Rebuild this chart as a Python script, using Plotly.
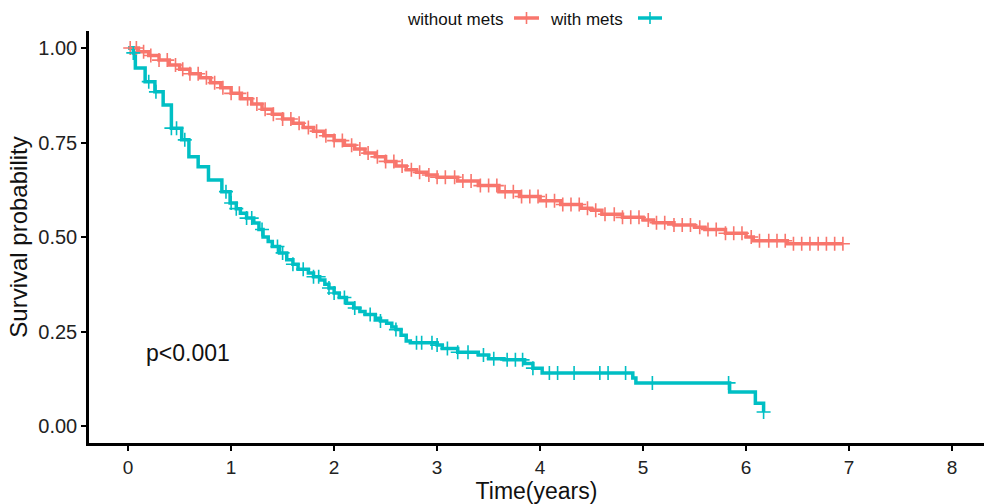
import numpy as np
import plotly.graph_objects as go

# ---------------- data ----------------
group_labels = ["without mets", "with mets"]

# Kaplan-Meier step curve, group "without mets"
t_nomets = [0.0, 0.1, 0.2, 0.3, 0.4, 0.5, 0.6, 0.7, 0.8, 0.9, 1.0, 1.1, 1.2, 1.3, 1.4,
            1.5, 1.6, 1.7, 1.8, 1.9, 2.0, 2.1, 2.2, 2.3, 2.4, 2.5, 2.6, 2.7, 2.8, 2.9,
            3.0, 3.2, 3.4, 3.6, 3.8, 4.0, 4.2, 4.4, 4.5, 4.6, 4.8, 5.0, 5.1, 5.3, 5.5,
            5.6, 5.8, 6.0, 6.07, 6.4, 6.94]
s_nomets = [1.0, 0.99, 0.98, 0.968, 0.955, 0.944, 0.932, 0.921, 0.908, 0.895, 0.88, 0.866,
            0.852, 0.838, 0.825, 0.812, 0.801, 0.79, 0.78, 0.768, 0.755, 0.743, 0.733,
            0.722, 0.712, 0.70, 0.688, 0.678, 0.671, 0.664, 0.658, 0.648, 0.636, 0.62,
            0.607, 0.596, 0.586, 0.576, 0.571, 0.56, 0.552, 0.545, 0.538, 0.532, 0.526,
            0.52, 0.51, 0.50, 0.49, 0.482, 0.482]

# Kaplan-Meier step curve, group "with mets"
t_mets = [0.0, 0.05, 0.07, 0.165, 0.26, 0.34, 0.42, 0.52, 0.59, 0.68, 0.78, 0.91, 0.99,
          1.05, 1.09, 1.15, 1.22, 1.27, 1.31, 1.36, 1.4, 1.47, 1.54, 1.6, 1.65, 1.75, 1.8,
          1.86, 1.91, 1.95, 2.0, 2.05, 2.12, 2.19, 2.25, 2.3, 2.4, 2.45, 2.51, 2.56, 2.6,
          2.65, 2.7, 2.74, 3.0, 3.05, 3.2, 3.4, 3.5, 3.65, 3.85, 3.93, 4.02,
          4.9, 4.93, 5.84, 6.09, 6.17]
s_mets = [1.0, 0.987, 0.947, 0.911, 0.884, 0.849, 0.788, 0.757, 0.712, 0.686, 0.651, 0.62,
          0.59, 0.575, 0.563, 0.55, 0.537, 0.52, 0.50, 0.488, 0.475, 0.458, 0.44, 0.428,
          0.415, 0.405, 0.395, 0.386, 0.375, 0.365, 0.352, 0.34, 0.325, 0.312, 0.303,
          0.295, 0.285, 0.278, 0.272, 0.262, 0.255, 0.24, 0.225, 0.22, 0.214, 0.205,
          0.195, 0.188, 0.178, 0.175, 0.165, 0.153, 0.14, 0.127, 0.114, 0.09, 0.06, 0.037]

# censoring times
cens_nomets = [0.02, 0.08, 0.15, 0.22, 0.3, 0.38, 0.46, 0.53, 0.6, 0.68, 0.76, 0.84, 0.92,
               1.0, 1.08, 1.16, 1.25, 1.33, 1.41, 1.5, 1.58, 1.66, 1.75, 1.83, 1.92, 2.0,
               2.08, 2.17, 2.25, 2.33, 2.42, 2.5, 2.58, 2.66, 2.75, 2.83, 2.92, 3.0, 3.08,
               3.17, 3.25, 3.33, 3.42, 3.5, 3.58, 3.66, 3.74, 3.82, 3.9, 3.98, 4.06, 4.14,
               4.22, 4.3, 4.38, 4.46, 4.54, 4.63, 4.72, 4.8, 4.88, 4.96, 5.05, 5.13, 5.21,
               5.3, 5.38, 5.46, 5.55, 5.63, 5.71, 5.8, 5.88, 5.96, 6.05, 6.13, 6.22, 6.3,
               6.38, 6.46, 6.54, 6.62, 6.7, 6.78, 6.86, 6.94]
cens_mets = [0.05, 0.2, 0.27, 0.42, 0.47, 0.55, 0.95, 1.0, 1.05, 1.15, 1.2, 1.3, 1.45, 1.5,
             1.6, 1.7, 1.8, 1.85, 1.95, 2.0, 2.1, 2.2, 2.35, 2.45, 2.6, 2.8, 2.85, 2.95,
             3.0, 3.1, 3.2, 3.3, 3.45, 3.55, 3.68, 3.76, 3.83, 3.93, 4.09, 4.17, 4.33,
             4.58, 4.66, 4.83, 5.09, 5.83, 6.17]

x_ticks = [0, 1, 2, 3, 4, 5, 6, 7, 8]
y_ticks = [0.0, 0.25, 0.5, 0.75, 1.0]
y_ticklabels = ["0.00", "0.25", "0.50", "0.75", "1.00"]
p_text = "p<0.001"

# ---------------- styling ----------------
colors = ["#F8766D", "#00BFC4"]
FONT = "Liberation Sans, Arial, sans-serif"
W, H = 984, 504
ML, MR, MT, MB = 89, 0, 31, 61


def surv_at(times, surv, tq):
    idx = np.searchsorted(np.asarray(times), np.asarray(tq), side="right") - 1
    return np.asarray(surv)[np.clip(idx, 0, len(surv) - 1)]


fig = go.Figure()
curves = [(t_nomets, s_nomets, cens_nomets), (t_mets, s_mets, cens_mets)]
for (tt, ss, cc), col, name in zip(curves, colors, group_labels):
    fig.add_trace(go.Scatter(x=tt, y=ss, mode="lines", line=dict(color=col, width=3.5, shape="hv"),
                             name=name, showlegend=False, hoverinfo="skip"))
for (tt, ss, cc), col, name in zip(curves, colors, group_labels):
    fig.add_trace(go.Scatter(x=cc, y=surv_at(tt, ss, cc), mode="markers",
                             marker=dict(symbol="cross-thin", size=10,
                                         line=dict(color=col, width=1.6)),
                             name=name, showlegend=False, hoverinfo="skip"))

# p-value
fig.add_annotation(x=0.58, y=0.193, xref="x", yref="y", text=p_text, showarrow=False,
                   font=dict(family=FONT, size=23, color="#111"), xanchor="center", yanchor="middle")

# manual legend (text first, key after, like the reference)
pw, ph = W - ML - MR, H - MT - MB


def px2x(px):
    return (px - ML) / pw


def py2y(py):
    return (H - MB - py) / ph


legend_items = [(group_labels[0], 505, 514, 539, colors[0]),
                (group_labels[1], 625, 638, 662, colors[1])]
for label, text_right, k0, k1, col in legend_items:
    fig.add_annotation(x=px2x(text_right), y=py2y(20), xref="paper", yref="paper", text=label,
                       showarrow=False, xanchor="right", yanchor="middle",
                       font=dict(family=FONT, size=17, color="#111"))
    fig.add_shape(type="line", xref="paper", yref="paper", x0=px2x(k0), x1=px2x(k1),
                  y0=py2y(18), y1=py2y(18), line=dict(color=col, width=3.5))
    kc = (k0 + k1) / 2
    fig.add_shape(type="line", xref="paper", yref="paper", x0=px2x(kc), x1=px2x(kc),
                  y0=py2y(12), y1=py2y(24), line=dict(color=col, width=1.6))

fig.update_layout(
    width=W, height=H, margin=dict(l=ML, r=MR, t=MT, b=MB),
    plot_bgcolor="white", paper_bgcolor="white",
    font=dict(family=FONT, color="#111"),
    showlegend=False,
)
fig.update_xaxes(range=[-0.38, 8.31], tickvals=x_ticks, ticktext=[str(v) for v in x_ticks],
                 showgrid=False, zeroline=False, showline=True, linecolor="black", linewidth=2.5,
                 ticks="outside", ticklen=5, tickwidth=2, tickcolor="black",
                 tickfont=dict(family=FONT, size=19, color="#222"),
                 title=dict(text="Time(years)", font=dict(family=FONT, size=23, color="#111"), standoff=6))
fig.update_yaxes(range=[-0.045, 1.045], tickvals=y_ticks, ticktext=y_ticklabels,
                 showgrid=False, zeroline=False, showline=True, linecolor="black", linewidth=2.5,
                 ticks="outside", ticklen=5, tickwidth=2, tickcolor="black",
                 tickfont=dict(family=FONT, size=20, color="#222"),
                 title=dict(text="Survival probability", font=dict(family=FONT, size=24, color="#111"), standoff=4))

fig.write_html("out.html")
